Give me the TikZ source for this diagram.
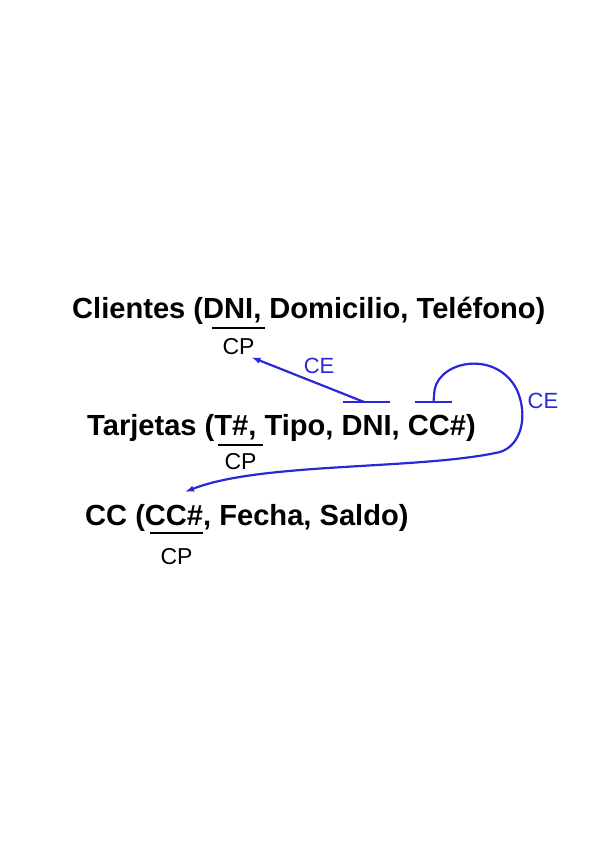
\documentclass[tikz,border=0pt]{standalone}
\usepackage{fontspec}
\setmainfont{Liberation Sans}
\definecolor{keyblue}{RGB}{40,40,215}
\usetikzlibrary{positioning,arrows.meta}

\begin{document}
\begin{tikzpicture}[x=1pt, y=-1pt, >={Latex[length=9pt,width=6.5pt]},
    rel/.style={anchor=base west, inner sep=0pt, font=\fontsize{29.1}{34}\selectfont\bfseries},
    cp/.style={inner sep=0pt, font=\fontsize{23}{26}\selectfont},
    ce/.style={inner sep=0pt, text=keyblue, font=\fontsize{22}{26}\selectfont},
    fk/.style={draw=keyblue, line width=2.2pt}]
    \useasboundingbox (0,0) rectangle (599,848);
    % relaciones
    \node[rel] (clientes) at (72,318) {Clientes (DNI, Domicilio, Teléfono)};
    \node[rel] (tarjetas) at (87,435) {Tarjetas (T\#, Tipo, DNI, CC\#)};
    \node[rel] (cc) at (85,525) {CC (CC\#, Fecha, Saldo)};
    % claves primarias
    \draw[line width=2pt] (212,328) --++ (0:53) node[midway, below=9pt, cp] (cpA) {CP};
    \draw[line width=2pt] (218,445) --++ (0:45) node[midway, below=7pt, cp] (cpB) {CP};
    \draw[line width=2pt] (150,533) --++ (0:53) node[midway, below=14pt, cp] (cpC) {CP};
    % claves externas
    \draw[fk] (343,402) --++ (0:47) coordinate[pos=0.45] (fkDni);
    \draw[fk] (415,402) --++ (0:37) coordinate[pos=0.5] (fkCc);
    \coordinate (tipA) at ([xshift=-4pt, yshift=-2pt]cpA.south east);
    \draw[fk, ->] (fkDni) -- (tipA) node[pos=0.4, above=9pt, ce] (ceA) {CE};
    \draw[fk, ->] (fkCc) -- ++(1,-12) .. controls (440,360) and (497,350) .. (517,390)
        .. controls (528,415) and (522,445) .. (500,452)
        .. controls (420,470) and (260,462) .. (185,492);
    \node[ce] (ceB) at (543,401) {CE};
\end{tikzpicture}
\end{document}
